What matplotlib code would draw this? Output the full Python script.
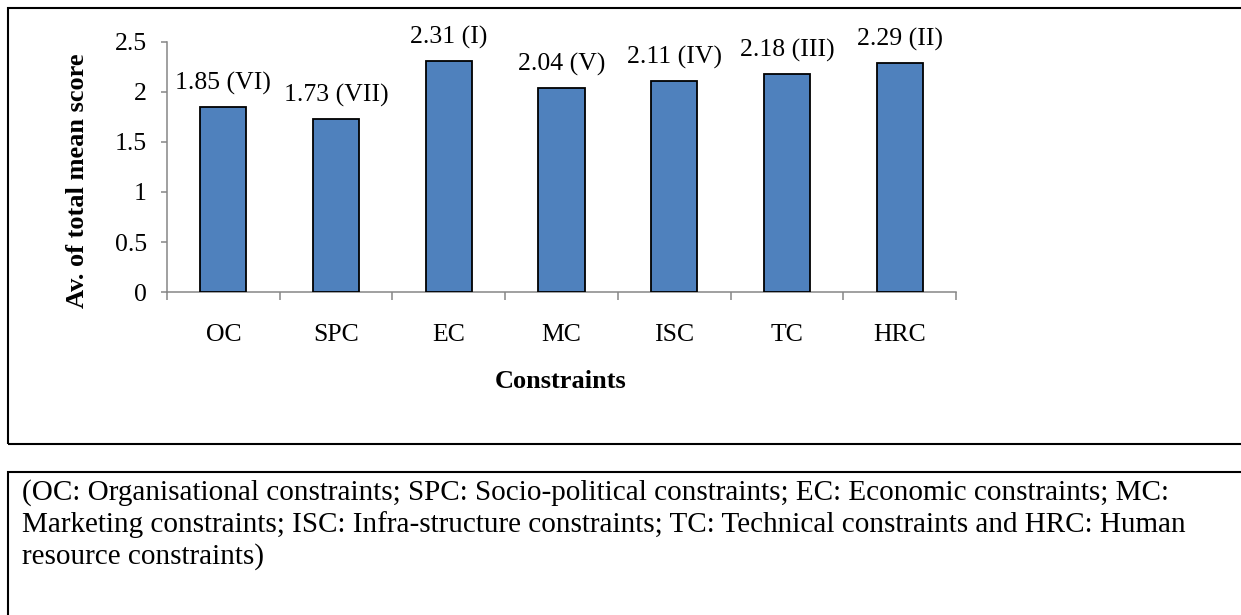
import matplotlib.pyplot as plt
from matplotlib.patches import Rectangle
from matplotlib.ticker import FixedLocator

# data
categories = ["OC", "SPC", "EC", "MC", "ISC", "TC", "HRC"]
scores = [1.85, 1.73, 2.31, 2.04, 2.11, 2.18, 2.29]
ranks = ["VI", "VII", "I", "V", "IV", "III", "II"]
y_ticks = [0, 0.5, 1, 1.5, 2, 2.5]
y_tick_labels = ["0", "0.5", "1", "1.5", "2", "2.5"]
footnote_lines = [
    "(OC: Organisational constraints; SPC: Socio-political constraints; EC: Economic constraints; MC:",
    "Marketing constraints; ISC: Infra-structure constraints; TC: Technical constraints and HRC: Human",
    "resource constraints)",
]

W, H = 1241, 615
plt.rcParams["font.family"] = ["Liberation Serif", "DejaVu Serif"]

fig = plt.figure(figsize=(W / 100, H / 100), dpi=100)

# outer frames (right edges run off the page)
fig.add_artist(Rectangle((8 / W, 1 - 444 / H), 1.2, 436 / H, transform=fig.transFigure,
                         fill=False, edgecolor="black", linewidth=1.5))
fig.add_artist(Rectangle((8 / W, -0.2), 1.2, 0.2 + 1 - 472 / H, transform=fig.transFigure,
                         fill=False, edgecolor="black", linewidth=1.5))

ax = fig.add_axes([167 / W, 1 - 292 / H, 789 / W, 250 / H])
x = [i + 0.5 for i in range(len(categories))]
ax.bar(x, scores, width=0.41, color="#4F81BD", edgecolor="black", linewidth=1.3, zorder=3)

for xi, v, r in zip(x, scores, ranks):
    ax.annotate(f"{v:.2f} ({r})", (xi, v), xytext=(0, 12.3), textcoords="offset points",
                ha="center", va="baseline", fontsize=18.5)

ax.set_xlim(0, len(categories))
ax.set_ylim(0, 2.5)
ax.set_yticks(y_ticks)
ax.set_yticklabels(y_tick_labels)
ax.xaxis.set_major_locator(FixedLocator(list(range(len(categories) + 1))))
ax.set_xticklabels([])
ax.xaxis.set_minor_locator(FixedLocator(x))
ax.set_xticklabels(categories, minor=True)

for s in ["top", "right"]:
    ax.spines[s].set_visible(False)
for s in ["left", "bottom"]:
    ax.spines[s].set_color("#868686")
    ax.spines[s].set_linewidth(1.1)

ax.tick_params(axis="y", direction="out", length=4.5, width=1.1, color="#868686",
               labelsize=18.5, pad=10)
ax.tick_params(axis="x", which="major", direction="out", length=6, width=1.1, color="#868686")
ax.tick_params(axis="x", which="minor", length=0, labelsize=18.5, pad=23)

fig.text(561 / W, 1 - 382 / H, "Constraints", ha="center", va="center",
         fontsize=19, fontweight="bold")
fig.text(77 / W, 1 - 181 / H, "Av. of total mean score", ha="center", va="center",
         rotation=90, fontsize=19, fontweight="bold")

# footnote, one baseline per line
for i, line in enumerate(footnote_lines):
    fig.text(22 / W, 1 - (500 + 31.7 * i) / H, line, ha="left", va="baseline", fontsize=21)

fig.savefig("out.png", dpi=100)
